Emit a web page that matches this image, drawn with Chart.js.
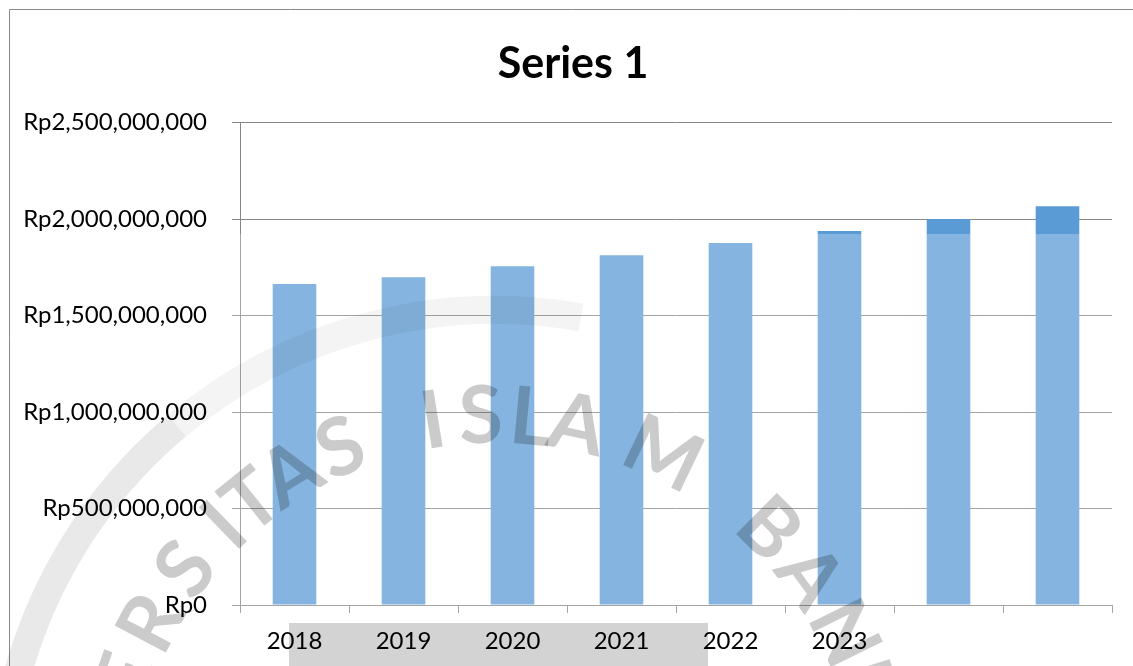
<!DOCTYPE html>
<html>
<head>
    <meta charset="utf-8">
    <script src="https://cdn.jsdelivr.net/npm/chart.js@4.4.1/dist/chart.umd.min.js"></script>
    <style>
        body { margin: 0; background: #fff; }
        canvas { display: block; }
    </style>
</head>
<body>
    <canvas id="chart" width="1133" height="666"></canvas>

    <script>
        // chart data
        const categories = ['2018', '2019', '2020', '2021', '2022', '2023', '', ''];
        const values = [1663000000, 1699000000, 1756000000, 1813000000, 1876000000, 1938000000, 2001000000, 2067000000];
        const yMin = 0;
        const yMax = 2500000000;
        const yStep = 500000000;

        const barColor = '#5B9BD5';
        const gridColor = '#868686';

        // faded watermark that sits on top of the original picture
        const wmCenter = { x: 495, y: 805 };
        const wmLetters = [
            ['E', -71], ['R', -62.1], ['S', -52.7], ['I', -44.1], ['T', -38.7], ['A', -31.7], ['S', -23.4],
            ['I', -9.2], ['S', -2.1], ['L', 5.3], ['A', 12.2], ['M', 25.6],
            ['B', 44.8], ['A', 54.1], ['N', 63.8], ['D', 73]
        ];

        const deg = Math.PI / 180;

        const backdrop = {
            id: 'backdrop',
            afterLayout(chart) {
                // title in the original is centred a bit right of the canvas middle
                chart.titleBlock.left = 34;
            },
            beforeDraw(chart) {
                const ctx = chart.ctx;
                ctx.save();
                ctx.fillStyle = '#fff';
                ctx.fillRect(0, 0, chart.width, chart.height);
                // outer frame
                ctx.strokeStyle = '#8a8a8a';
                ctx.lineWidth = 1;
                ctx.beginPath();
                ctx.moveTo(9.5, chart.height);
                ctx.lineTo(9.5, 9.5);
                ctx.lineTo(chart.width, 9.5);
                ctx.stroke();
                // grey block behind the year labels
                ctx.fillStyle = '#d3d3d3';
                ctx.fillRect(289, 623, 419, 43);
                ctx.restore();
            },
            afterDatasetsDraw(chart) {
                const ctx = chart.ctx;
                const a = chart.chartArea;
                ctx.save();
                ctx.fillStyle = 'rgba(255,255,255,0.25)';
                ctx.fillRect(a.left - 15, 234, a.right - a.left + 16, a.bottom - 234 + 11);
                ctx.restore();
            },
            afterDraw(chart) {
                const ctx = chart.ctx;
                ctx.save();
                ctx.globalCompositeOperation = 'multiply';
                ctx.lineWidth = 28;
                ctx.strokeStyle = '#e9e9e9';
                ctx.beginPath();
                ctx.arc(wmCenter.x, wmCenter.y, 495, (-100 - 90) * deg, (-40 - 90) * deg);
                ctx.stroke();
                ctx.strokeStyle = '#f4f4f4';
                ctx.beginPath();
                ctx.arc(wmCenter.x, wmCenter.y, 495, (-40 - 90) * deg, (10 - 90) * deg);
                ctx.stroke();

                ctx.fillStyle = '#cbcbcb';
                ctx.font = 'bold 80px Lato';
                ctx.textAlign = 'center';
                ctx.textBaseline = 'middle';
                const r = 392;
                wmLetters.forEach(([ch, ang]) => {
                    const t = ang * deg;
                    ctx.save();
                    ctx.translate(wmCenter.x + r * Math.sin(t), wmCenter.y - r * Math.cos(t));
                    ctx.rotate(t);
                    ctx.fillText(ch, 0, 4);
                    ctx.restore();
                });
                ctx.restore();
            }
        };

        const config = {
            type: 'bar',
            data: {
                labels: categories,
                datasets: [
                    {
                        label: 'Series 1',
                        data: values,
                        backgroundColor: barColor,
                        borderWidth: 0,
                        barPercentage: 0.4,
                        categoryPercentage: 1.0
                    }
                ]
            },
            options: {
                responsive: false,
                animation: false,
                layout: {
                    padding: { left: 0, right: 21, top: 0, bottom: 0 }
                },
                scales: {
                    x: {
                        grid: {
                            offset: true,
                            drawOnChartArea: false,
                            drawTicks: true,
                            tickLength: 8,
                            color: gridColor
                        },
                        border: { color: gridColor },
                        ticks: {
                            color: '#000',
                            padding: 14,
                            font: { family: 'Lato', size: 24 },
                            maxRotation: 0,
                            autoSkip: false
                        },
                        afterFit(scale) {
                            scale.height = 61;
                        }
                    },
                    y: {
                        min: yMin,
                        max: yMax,
                        grid: {
                            color: gridColor,
                            tickLength: 8
                        },
                        border: { color: gridColor },
                        ticks: {
                            stepSize: yStep,
                            color: '#000',
                            padding: 25,
                            font: { family: 'Lato', size: 24 },
                            callback: v => 'Rp' + Number(v).toLocaleString('en-US')
                        },
                        afterFit(scale) {
                            scale.width = 240;
                        }
                    }
                },
                plugins: {
                    legend: { display: false },
                    tooltip: { enabled: false },
                    title: {
                        display: true,
                        text: 'Series 1',
                        color: '#000',
                        font: { family: 'Lato', size: 43, weight: 'bold', lineHeight: 1.2 },
                        padding: { top: 38, bottom: 33 }
                    }
                }
            },
            plugins: [backdrop]
        };

        new Chart(document.getElementById('chart'), config);
    </script>
</body>
</html>
